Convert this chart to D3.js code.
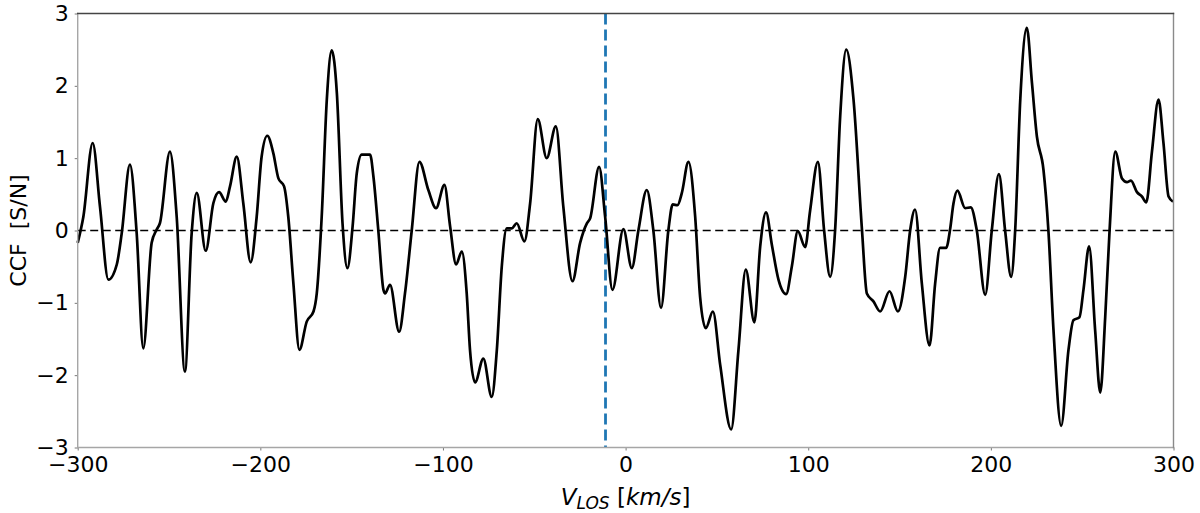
<!DOCTYPE html>
<html>
<head>
<meta charset="UTF-8">
<title>CCF</title>
<script src="https://d3js.org/d3.v7.min.js"></script>
<style>
  html, body { margin: 0; padding: 0; background: #fff; }
  text { font-family: "DejaVu Sans", sans-serif; }
</style>
</head>
<body>
<div id="chart"></div>
<script>
// line of sight velocity (km/s) and CCF value (S/N)
const vlos = [
  -300, -296.9, -291.8, -287.8, -283.2, -278.6, -275.9, -271.4, -267.7, -264.1,
  -259.5, -256.8, -255, -249.5, -245.8, -241.3, -237.6, -234.8, -229.9, -225.7,
  -222.6, -218.9, -216.6, -212.9, -209.3, -205.3, -202, -199.3, -196.2, -192.9,
  -190.1, -187, -184.7, -181.9, -178.6, -174.6, -170.9, -169.1, -166.4, -163.6,
  -160.9, -158.1, -155, -152.3, -149.5, -147.2, -144.5, -139.9, -138.1, -135.4,
  -132.6, -131.7, -129, -124, -120.8, -117.1, -112.9, -108, -103.8, -99.2,
  -96.1, -92.8, -89.7, -87, -85.2, -82.4, -77.9, -73.3, -70.5, -67.8,
  -65.1, -62.3, -59.6, -55.4, -52.3, -48.1, -43.2, -38.2, -34.1, -29.1,
  -24.9, -21.2, -19.4, -14.5, -11.2, -7.2, -1.2, 3.4, 7, 11.6,
  15.2, 19.4, 23.4, 25.8, 28.4, 30.8, 34.4, 38.1, 40.8, 43.9,
  47.8, 51.8, 57.8, 61.8, 65.8, 70.5, 73.7, 76.9, 80.1, 83.7,
  87.9, 91, 94.3, 98.3, 101, 105.3, 108.7, 112, 114.7, 117.5,
  120.8, 124.8, 129.4, 132.1, 135.7, 139.4, 144.5, 149.1, 153.1, 155.8,
  158.5, 162.2, 166.4, 169.5, 172.2, 175.5, 177.7, 179.5, 181.7, 185.9,
  189, 192.3, 196.9, 200.5, 204.4, 207.8, 211.1, 213.3, 216.1, 219.7,
  222.5, 225.2, 228.8, 231.5, 234.3, 238.5, 242.5, 245.2, 248.5, 250.7,
  253.8, 257.1, 259.9, 262.6, 265, 268.1, 271.8, 274.5, 276.7, 280,
  282.7, 285.1, 288.2, 291.8, 294.5, 297.3, 299.7
];
const ccf = [
  -0.17, 0.19, 1.21, 0.33, -0.68, -0.47, -0.04, 0.91, -0.04, -1.63,
  -0.17, 0.01, 0.10, 1.09, 0.19, -1.95, -0.04, 0.52, -0.28, 0.38,
  0.53, 0.40, 0.61, 1.02, 0.37, -0.44, 0.19, 1.02, 1.31, 1.07,
  0.72, 0.61, 0.19, -0.73, -1.65, -1.26, -1.12, -0.87, 0.19, 1.81,
  2.49, 1.90, 0.10, -0.52, 0.05, 0.79, 1.05, 1.05, 0.75, 0.00,
  -0.82, -0.87, -0.75, -1.40, -0.87, 0.00, 0.95, 0.56, 0.31, 0.63,
  0.06, -0.47, -0.29, -0.87, -1.65, -2.10, -1.77, -2.30, -1.65, -0.50,
  0.03, 0.03, 0.10, -0.15, 0.37, 1.54, 1.00, 1.44, 0.33, -0.70,
  -0.17, 0.10, 0.17, 0.88, 0.19, -0.82, 0.02, -0.52, 0.00, 0.56,
  0.00, -1.07, 0.00, 0.36, 0.35, 0.52, 0.95, 0.19, -0.92, -1.35,
  -1.12, -1.86, -2.75, -1.65, -0.54, -1.27, -0.22, 0.25, -0.20, -0.68,
  -0.88, -0.50, -0.01, -0.23, 0.27, 0.95, 0.00, -0.64, 0.00, 1.58,
  2.50, 1.81, 0.02, -0.87, -0.98, -1.12, -0.84, -1.12, -0.64, 0.00,
  0.29, -0.73, -1.59, -0.73, -0.24, -0.24, 0.02, 0.37, 0.55, 0.31,
  0.32, 0.00, -0.89, 0.00, 0.78, 0.00, -0.64, 0.00, 1.81, 2.80,
  2.04, 1.30, 0.84, 0.00, -1.38, -2.70, -1.65, -1.24, -1.20, -0.82,
  -0.22, -1.38, -2.24, -1.20, 0.00, 1.09, 0.72, 0.67, 0.69, 0.53,
  0.47, 0.39, 1.09, 1.81, 1.21, 0.47, 0.40
];
const xTicks = [-300, -200, -100, 0, 100, 200, 300];
const yTicks = [-3, -2, -1, 0, 1, 2, 3];
const vMarker = -11;

const W = 1200, H = 513;
const margin = {top: 13.5, right: 26.5, bottom: 65.5, left: 77.7};

const svg = d3.select('#chart').append('svg').attr('width', W).attr('height', H);

const x = d3.scaleLinear().domain([-300, 300]).range([margin.left, W - margin.right]);
const y = d3.scaleLinear().domain([-3, 3]).range([H - margin.bottom, margin.top]);

const fmt = d => d < 0 ? '\u2212' + Math.abs(d) : String(d);

// axes (ticks + labels only, frame drawn below)
const xAxis = svg.append('g').attr('transform', `translate(0,${H - margin.bottom})`)
  .call(d3.axisBottom(x).tickValues(xTicks).tickFormat(fmt).tickSize(3).tickPadding(6));
const yAxis = svg.append('g').attr('transform', `translate(${margin.left},0)`)
  .call(d3.axisLeft(y).tickValues(yTicks).tickFormat(fmt).tickSize(3).tickPadding(6));
[xAxis, yAxis].forEach(g => {
  g.select('.domain').remove();
  g.selectAll('.tick line').attr('stroke', '#777').attr('stroke-width', 1);
  g.selectAll('.tick text').attr('fill', '#000').style('font-size', '22px');
});

// zero line
svg.append('line')
  .attr('x1', x(-300)).attr('x2', x(300)).attr('y1', y(0)).attr('y2', y(0))
  .attr('stroke', '#000').attr('stroke-width', 1.6).attr('stroke-dasharray', '8,4.5');

// velocity marker
svg.append('line')
  .attr('x1', x(vMarker)).attr('x2', x(vMarker)).attr('y1', y(3)).attr('y2', y(-3))
  .attr('stroke', '#1f77b4').attr('stroke-width', 2.8).attr('stroke-dasharray', '11,5');

// CCF curve
const line = d3.line().x((d, i) => x(vlos[i])).y(d => y(d)).curve(d3.curveMonotoneX);
svg.append('path').attr('d', line(ccf))
  .attr('fill', 'none').attr('stroke', '#000').attr('stroke-width', 2.7)
  .attr('stroke-linejoin', 'round');

// frame: top spine darker, others light grey like the reference
const x0 = margin.left, x1 = W - margin.right, y0 = margin.top, y1 = H - margin.bottom;
const spines = [
  [x0, y1, x1, y1, '#a6a6a6'],
  [x0, y0, x0, y1, '#a6a6a6'],
  [x1, y0, x1, y1, '#8a8a8a'],
  [x0, y0, x1, y0, '#444']
];
svg.selectAll('line.spine').data(spines).enter().append('line').attr('class', 'spine')
  .attr('x1', d => d[0]).attr('y1', d => d[1]).attr('x2', d => d[2]).attr('y2', d => d[3])
  .attr('stroke', d => d[4]).attr('stroke-width', 1.4).attr('stroke-linecap', 'square');

// labels
const xl = svg.append('text').attr('x', x(0)).attr('y', 505)
  .attr('text-anchor', 'middle').style('font-size', '23px');
xl.append('tspan').style('font-style', 'italic').text('V');
xl.append('tspan').style('font-style', 'italic').style('font-size', '17px').attr('dy', 4).text('LOS');
xl.append('tspan').attr('dy', -4).text(' [');
xl.append('tspan').style('font-style', 'italic').text('km/s');
xl.append('tspan').text(']');

svg.append('text')
  .attr('transform', `translate(26,${y(0)}) rotate(-90)`)
  .attr('text-anchor', 'middle').style('font-size', '22px')
  .attr('xml:space', 'preserve')
  .text('CCF  [S/N]');
</script>
</body>
</html>
